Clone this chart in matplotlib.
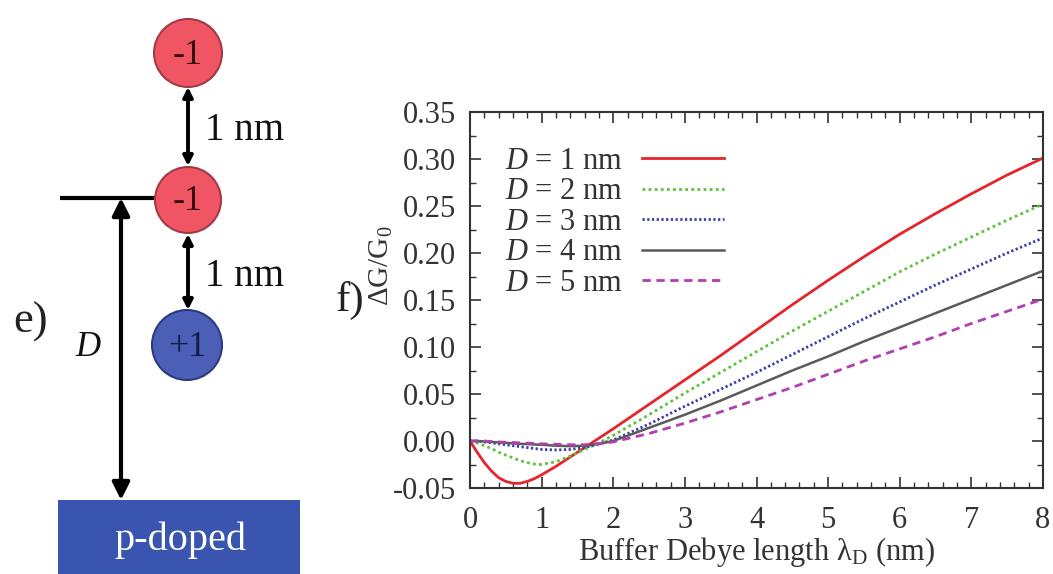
import matplotlib
matplotlib.use("Agg")
import matplotlib.pyplot as plt
from matplotlib.patches import Circle, Rectangle, FancyArrowPatch
from matplotlib.ticker import MultipleLocator

plt.rcParams['font.family'] = ['Liberation Serif', 'DejaVu Serif']
plt.rcParams['mathtext.fontset'] = 'custom'
plt.rcParams['mathtext.rm'] = 'Liberation Serif'
plt.rcParams['mathtext.it'] = 'Liberation Serif:italic'

# ---------------- data ----------------
lam = [0, 0.1, 0.2, 0.3, 0.4, 0.5, 0.6, 0.7, 0.8, 0.9, 1.0, 1.2, 1.4, 1.6, 1.8,
       2.0, 2.5, 3.0, 3.5, 4.0, 4.5, 5.0, 5.5, 6.0, 6.5, 7.0, 7.5, 8.0]
d1 = [0, -0.012, -0.023, -0.032, -0.039, -0.043, -0.045, -0.045, -0.043, -0.040,
      -0.036, -0.027, -0.017, -0.007, 0.003, 0.013, 0.039, 0.065, 0.091, 0.118,
      0.145, 0.171, 0.196, 0.220, 0.242, 0.263, 0.283, 0.301]
d2 = [0, -0.002, -0.005, -0.008, -0.012, -0.015, -0.018, -0.021, -0.023, -0.0245,
      -0.025, -0.022, -0.016, -0.009, -0.002, 0.006, 0.028, 0.051, 0.073, 0.095,
      0.117, 0.138, 0.159, 0.180, 0.199, 0.217, 0.235, 0.252]
d3 = [0, 0, -0.001, -0.002, -0.003, -0.004, -0.005, -0.006, -0.007, -0.008,
      -0.009, -0.0095, -0.009, -0.007, -0.003, 0.001, 0.018, 0.037, 0.055, 0.073,
      0.092, 0.111, 0.130, 0.148, 0.166, 0.183, 0.200, 0.216]
d4 = [0, 0, -0.0005, -0.001, -0.0015, -0.002, -0.0025, -0.003, -0.0033, -0.0037,
      -0.004, -0.005, -0.0055, -0.005, -0.003, 0.0, 0.014, 0.028, 0.043, 0.059,
      0.075, 0.090, 0.106, 0.121, 0.136, 0.151, 0.166, 0.181]
d5 = [0, 0, 0, -0.0005, -0.001, -0.0013, -0.0016, -0.002, -0.0023, -0.0026,
      -0.003, -0.0035, -0.004, -0.004, -0.003, -0.001, 0.008, 0.019, 0.031, 0.044,
      0.057, 0.071, 0.085, 0.098, 0.111, 0.125, 0.138, 0.151]
series = [d1, d2, d3, d4, d5]
labels = ["$D$ = 1 nm", "$D$ = 2 nm", "$D$ = 3 nm", "$D$ = 4 nm", "$D$ = 5 nm"]
xticks = [0, 1, 2, 3, 4, 5, 6, 7, 8]
yticks = [-0.05, 0.00, 0.05, 0.10, 0.15, 0.20, 0.25, 0.30, 0.35]

colors = ['#e3262c', '#5cc23a', '#3c3ca8', '#5a5a5a', '#b040b0']
styles = ['-', (0, (1, 1.2)), (0, (0.8, 0.9)), '-', (0, (3, 2))]
widths = [2.0, 2.0, 2.0, 1.8, 2.0]

W, H = 1053, 574
fig = plt.figure(figsize=(W / 100, H / 100), dpi=100)

# ---------------- left diagram (pixel coordinates) ----------------
dax = fig.add_axes([0, 0, 1, 1])
dax.set_xlim(0, W)
dax.set_ylim(H, 0)
dax.axis('off')

red_fc, red_ec = '#ef5563', '#a33a48'
blue_fc, blue_ec = '#4b5fb6', '#2c3a80'
for (cx, cy, r, fc, ec, t, tc) in [(188, 53, 34, red_fc, red_ec, '-1', '#3a0d12'),
                                   (188, 200, 33, red_fc, red_ec, '-1', '#3a0d12'),
                                   (187, 345, 35, blue_fc, blue_ec, '+1', '#141c4a')]:
    dax.add_patch(Circle((cx, cy), r, facecolor=fc, edgecolor=ec, lw=1.5, zorder=3))
    dax.text(cx, cy + 2, t, ha='center', va='center', fontsize=26, color=tc, zorder=4)

for (y0, y1) in [(87, 166), (234, 310)]:
    dax.add_patch(FancyArrowPatch((188, y0), (188, y1), arrowstyle='<|-|>',
                                  mutation_scale=14, lw=2.8, color='black', zorder=2,
                                  shrinkA=0, shrinkB=0))
dax.text(205, 130, '1 nm', ha='left', va='center', fontsize=28, color='#111111')
dax.text(205, 277, '1 nm', ha='left', va='center', fontsize=28, color='#111111')

dax.plot([60, 156], [198, 198], color='black', lw=3, solid_capstyle='butt')
dax.add_patch(FancyArrowPatch((121, 198), (121, 500), arrowstyle='<|-|>',
                              mutation_scale=26, lw=3, color='black',
                              shrinkA=0, shrinkB=0))
dax.add_patch(Rectangle((58, 500), 242, 80, facecolor='#3a55b0', edgecolor='none'))
dax.text(180, 540, 'p-doped', ha='center', va='center', fontsize=29, color='white')
dax.text(88, 348, '$D$', ha='center', va='center', fontsize=25, color='#111111')
dax.text(31, 322, 'e)', ha='center', va='center', fontsize=32, color='#222222')
dax.text(350, 300, 'f)', ha='center', va='center', fontsize=31, color='#222222')
dax.text(381, 266, r'$\mathrm{\Delta G/G_0}$', ha='center', va='center', rotation=90,
         fontsize=21, color='#333333')

# ---------------- chart ----------------
ax = fig.add_axes([470 / W, 1 - 488 / H, 573 / W, 376 / H])
for y, lab, c, ls, lw in zip(series, labels, colors, styles, widths):
    ax.plot(lam, y, color=c, linestyle=ls, lw=lw, label=lab)

ax.set_xlim(0, 8)
ax.set_ylim(-0.05, 0.35)
ax.set_xticks(xticks)
ax.set_xticklabels([str(v) for v in xticks])
ax.set_yticks(yticks)
ax.set_yticklabels(['%.2f' % v for v in yticks])
ax.xaxis.set_minor_locator(MultipleLocator(0.2))
ax.yaxis.set_minor_locator(MultipleLocator(0.025))
ax.tick_params(which='both', direction='in', top=True, right=True, color='#333333')
ax.tick_params(which='major', length=8, width=1.2, labelsize=22, labelcolor='#333333', pad=10)
ax.tick_params(axis='x', which='major', pad=13)
ax.tick_params(which='minor', length=4, width=1.0)
for s in ax.spines.values():
    s.set_color('#333333')
    s.set_linewidth(1.5)

ax.set_xlabel(r'Buffer Debye length $\mathrm{\lambda_D}$ (nm)', fontsize=22,
              color='#333333', labelpad=0)

ax.legend(loc='upper left', bbox_to_anchor=(0.04, 0.94), markerfirst=False,
          frameon=False, fontsize=22, handlelength=2.7, handletextpad=0.6,
          labelspacing=0.05, borderaxespad=0, labelcolor='#333333')

fig.savefig('out.png', dpi=100)
